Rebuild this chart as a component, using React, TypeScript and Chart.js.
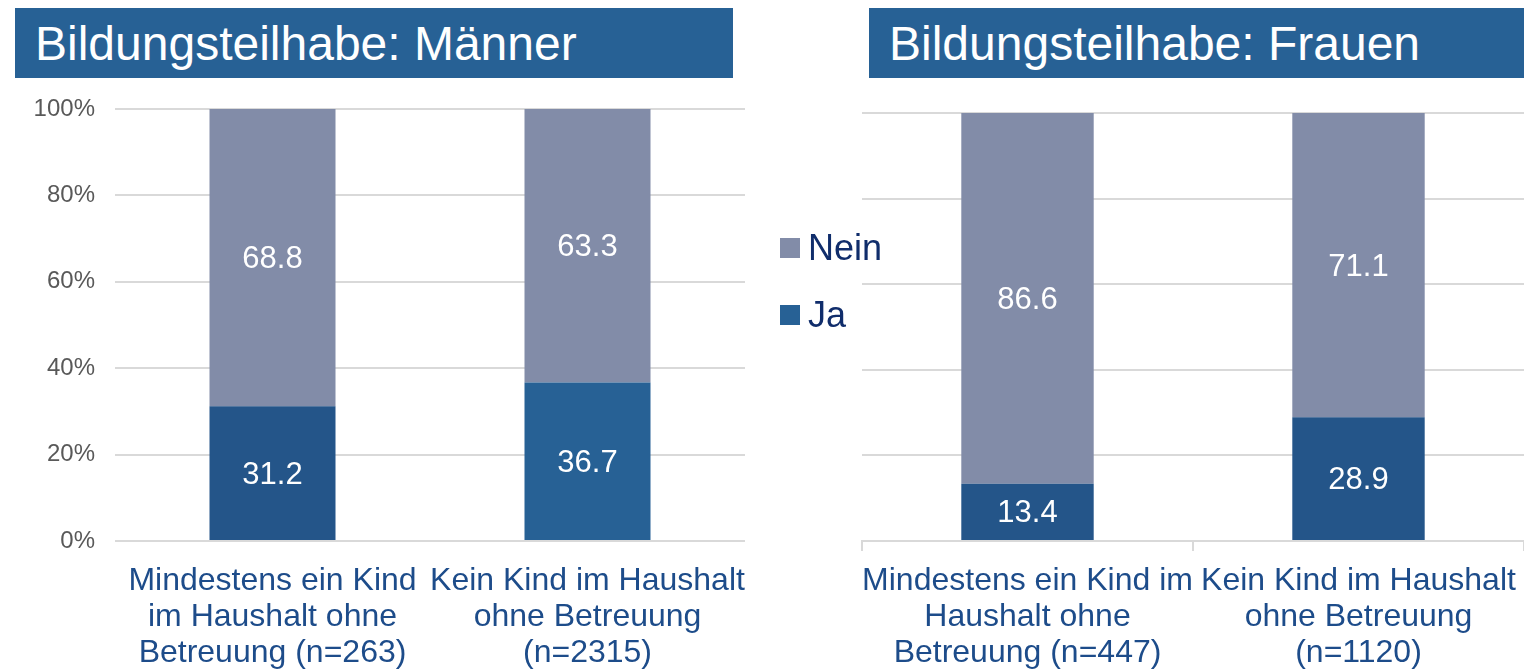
import React, { useEffect, useRef } from "react";
import { Chart, registerables } from "chart.js";

Chart.register(...registerables);

// ---- Data ----
const menCategories: string[][] = [
  ["Mindestens ein Kind", "im Haushalt ohne", "Betreuung (n=263)"],
  ["Kein Kind im Haushalt", "ohne Betreuung", "(n=2315)"],
];
const menJa: number[] = [31.2, 36.7];
const menNein: number[] = [68.8, 63.3];

const womenCategories: string[][] = [
  ["Mindestens ein Kind im", "Haushalt ohne", "Betreuung (n=447)"],
  ["Kein Kind im Haushalt", "ohne Betreuung", "(n=1120)"],
];
const womenJa: number[] = [13.4, 28.9];
const womenNein: number[] = [86.6, 71.1];

const yTicks: number[] = [0, 20, 40, 60, 80, 100];
const seriesNames: string[] = ["Ja", "Nein"];

const FONT = "'Liberation Sans', Arial, sans-serif";
const NEIN_COLOR = "#828ca8";
const JA_DARK = "#245589";
const JA_LIGHT = "#276195";
const TITLE_BG = "#276195";
const CAT_COLOR = "#1d4c8a";
const GRID = "#d9d9d9";

const valueLabels = {
  id: "valueLabels",
  afterDatasetsDraw(chart: any) {
    const ctx = chart.ctx;
    ctx.save();
    ctx.font = `31px ${FONT}`;
    ctx.fillStyle = "#ffffff";
    ctx.textAlign = "center";
    ctx.textBaseline = "middle";
    chart.data.datasets.forEach((ds: any, i: number) => {
      const meta = chart.getDatasetMeta(i);
      meta.data.forEach((bar: any, j: number) => {
        const p = bar.getProps(["x", "y", "base"], true);
        ctx.fillText(Number(ds.data[j]).toFixed(1), p.x, (p.y + p.base) / 2 + 2);
      });
    });
    ctx.restore();
  },
};

function makeConfig(
  categories: string[][],
  ja: number[],
  nein: number[],
  jaColors: string[],
  isLeft: boolean
): any {
  return {
    type: "bar",
    data: {
      labels: categories,
      datasets: [
        {
          label: seriesNames[0],
          data: ja,
          backgroundColor: jaColors,
          barPercentage: 0.4,
          categoryPercentage: 1,
        },
        {
          label: seriesNames[1],
          data: nein,
          backgroundColor: NEIN_COLOR,
          barPercentage: 0.4,
          categoryPercentage: 1,
        },
      ],
    },
    options: {
      animation: false,
      responsive: false,
      devicePixelRatio: 1,
      layout: {
        padding: isLeft
          ? { top: 19, right: 15, bottom: 0, left: 0 }
          : { top: 23, right: 0, bottom: 0, left: 0 },
      },
      plugins: {
        legend: { display: false },
        tooltip: { enabled: false },
        title: { display: false },
      },
      scales: {
        x: {
          stacked: true,
          offset: true,
          border: { display: !isLeft, color: GRID, width: 2 },
          grid: isLeft
            ? { display: false, drawTicks: false }
            : {
                display: true,
                drawOnChartArea: false,
                drawTicks: true,
                tickLength: 10,
                color: GRID,
                lineWidth: 2,
                offset: true,
              },
          ticks: {
            autoSkip: false,
            maxRotation: 0,
            minRotation: 0,
            padding: isLeft ? 22 : 12,
            color: CAT_COLOR,
            font: { family: FONT, size: 32, lineHeight: 1.125 },
          },
          afterFit(scale: any) {
            scale.height = 130;
            scale.paddingLeft = 0;
            scale.paddingRight = 0;
          },
        },
        y: {
          stacked: true,
          min: 0,
          max: 100,
          afterBuildTicks(scale: any) {
            scale.ticks = yTicks.map((v) => ({ value: v }));
          },
          border: { display: false },
          grid: { color: GRID, lineWidth: 2, drawTicks: false },
          ticks: {
            display: isLeft,
            padding: 20,
            color: "#595959",
            font: { family: FONT, size: 24 },
            callback: (v: any) => `${v}%`,
          },
          afterFit(scale: any) {
            scale.width = isLeft ? 115 : 22;
            scale.paddingTop = 0;
            scale.paddingBottom = 0;
          },
        },
      },
    },
    plugins: [valueLabels],
  };
}

function ChartCanvas(props: {
  config: any;
  left: number;
  top: number;
  width: number;
  height: number;
}) {
  const ref = useRef<HTMLCanvasElement | null>(null);
  useEffect(() => {
    if (!ref.current) return;
    const chart = new Chart(ref.current, props.config);
    return () => chart.destroy();
  }, []);
  return (
    <canvas
      ref={ref}
      width={props.width}
      height={props.height}
      style={{
        position: "absolute",
        left: props.left,
        top: props.top,
        width: props.width,
        height: props.height,
      }}
    />
  );
}

function TitleBox(props: { text: string; left: number; width: number }) {
  return (
    <div
      style={{
        position: "absolute",
        left: props.left,
        top: 8,
        width: props.width,
        height: 70,
        background: TITLE_BG,
        color: "#ffffff",
        fontFamily: FONT,
        fontSize: 48,
        lineHeight: "72px",
        paddingLeft: 20,
        boxSizing: "border-box",
        whiteSpace: "nowrap",
      }}
    >
      {props.text}
    </div>
  );
}

function LegendItem(props: { label: string; color: string; top: number }) {
  return (
    <div
      style={{
        position: "absolute",
        left: 780,
        top: props.top,
        display: "flex",
        alignItems: "center",
        fontFamily: FONT,
        fontSize: 36,
        color: "#102d6b",
        lineHeight: "40px",
      }}
    >
      <div
        style={{
          width: 20,
          height: 20,
          background: props.color,
          marginRight: 8,
        }}
      />
      <span>{props.label}</span>
    </div>
  );
}

export default function App() {
  const leftCfg = makeConfig(menCategories, menJa, menNein, [JA_DARK, JA_LIGHT], true);
  const rightCfg = makeConfig(womenCategories, womenJa, womenNein, [JA_DARK, JA_DARK], false);
  return (
    <div
      style={{
        position: "fixed",
        left: 0,
        top: 0,
        width: 1524,
        height: 671,
        background: "#ffffff",
        overflow: "hidden",
      }}
    >
      <TitleBox text="Bildungsteilhabe: Männer" left={15} width={718} />
      <TitleBox text="Bildungsteilhabe: Frauen" left={869} width={655} />
      <ChartCanvas config={leftCfg} left={0} top={90} width={760} height={581} />
      <ChartCanvas config={rightCfg} left={840} top={90} width={684} height={581} />
      <LegendItem label={seriesNames[1]} color={NEIN_COLOR} top={228} />
      <LegendItem label={seriesNames[0]} color={JA_LIGHT} top={295} />
    </div>
  );
}
